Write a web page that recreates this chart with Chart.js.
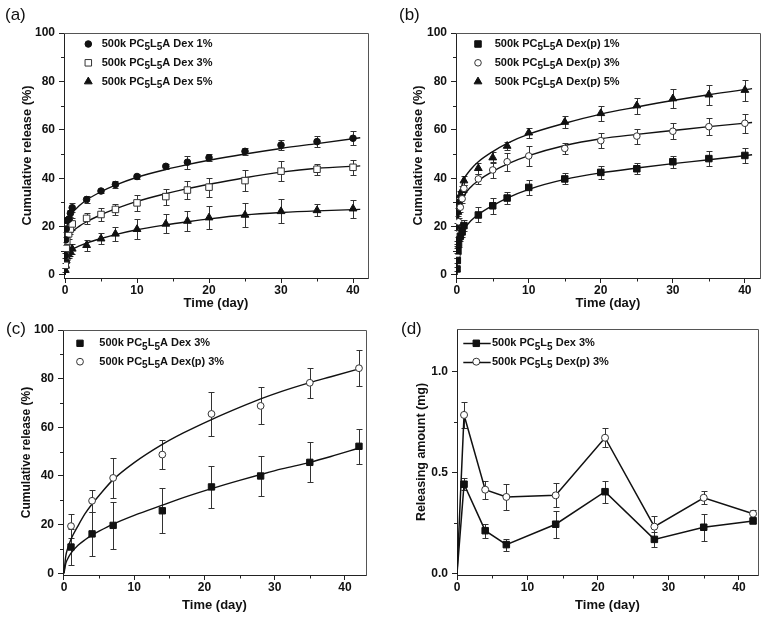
<!DOCTYPE html>
<html><head><meta charset="utf-8">
<script src="https://cdn.jsdelivr.net/npm/chart.js@4.4.1/dist/chart.umd.min.js"></script>
<style>
html,body{margin:0;padding:0;background:#fff;}
#wrap{position:relative;width:767px;height:620px;overflow:hidden;background:#fff;}
canvas{position:absolute;}
.pl{position:absolute;font-family:'Liberation Sans',Arial,sans-serif;font-size:17px;line-height:17px;color:#111;white-space:nowrap;}
</style></head><body>
<div id="wrap">
<canvas id="ca" width="384" height="320" style="left:0;top:0;width:384px;height:320px"></canvas>
<canvas id="cb" width="383" height="320" style="left:384px;top:0;width:383px;height:320px"></canvas>
<canvas id="cc" width="384" height="310" style="left:0;top:310px;width:384px;height:310px"></canvas>
<canvas id="cd" width="383" height="310" style="left:384px;top:310px;width:383px;height:310px"></canvas>
<div class="pl" style="left:5px;top:6px">(a)</div>
<div class="pl" style="left:399px;top:6px">(b)</div>
<div class="pl" style="left:6px;top:320px">(c)</div>
<div class="pl" style="left:401px;top:320px">(d)</div>
</div>
<script>
// ---------- tick labels ----------
const xTicks = [0, 10, 20, 30, 40];
const xMinor = [5, 15, 25, 35];
const yTicksPct = [0, 20, 40, 60, 80, 100];
const yMinorPct = [10, 30, 50, 70, 90];
const yTicksMg = [0, 0.5, 1.0];
const yMinorMg = [0.25, 0.75];
const xTitle = 'Time (day)';
const yTitlePct = 'Cumulative release (%)';
const yTitleMg = 'Releasing amount (mg)';

// ---------- panel (a) ----------
const aLabels = ['500k PC₅L₅A Dex 1%', '500k PC₅L₅A Dex 3%', '500k PC₅L₅A Dex 5%'];
const aDays = [0.042, 0.083, 0.167, 0.25, 0.5, 0.75, 1, 3, 5, 7, 10, 14, 17, 20, 25, 30, 35, 40];
const aDex1 = [8, 14.5, 19, 22.5, 23, 25.5, 27.8, 31.2, 34.7, 37.4, 40.7, 44.9, 46.6, 48.5, 51.1, 53.7, 55.1, 56.5];
const aDex1Err = [1, 1, 1.2, 1.2, 1.5, 1.5, 1.8, 1.3, 1.0, 1.3, 1.2, 1.0, 2.6, 1.5, 1.5, 2.1, 2.4, 2.8];
const aDex3 = [4, 8, 11, 14, 17, 19, 21.1, 23.4, 25, 27.1, 29.8, 32.4, 35.1, 36.3, 39, 42.9, 43.7, 44.5];
const aDex3Err = [1, 1, 1.2, 1.5, 2, 2, 2.3, 2.3, 2.6, 2.4, 3.2, 3.3, 3.7, 3.9, 4.2, 4.2, 2.3, 3.1];
const aDex5 = [2, 4, 6, 7.5, 8.5, 9.5, 10.8, 12.3, 15, 17, 18.9, 21.1, 22.3, 23.7, 24.8, 26.3, 26.7, 27.4];
const aDex5Err = [0.8, 1, 1, 1.2, 1.5, 1.5, 2, 2.2, 2.2, 3, 4.1, 3.9, 4.0, 4.7, 4.8, 5.0, 2.5, 3.7];
const aFitDays = [0, 0.02, 0.1, 0.25, 0.5, 1, 2, 3, 5, 7, 10, 14, 17, 20, 25, 30, 35, 41];
const aFit1 = [0, 11, 15.5, 19.5, 22.5, 25.5, 28.7, 31, 34.4, 37.1, 40.4, 43.6, 45.6, 47.4, 50, 52.3, 54.3, 56.7];
const aFit3 = [0, 6, 9.5, 12.5, 15, 17.7, 20.2, 22, 24.9, 27.3, 30.4, 33.6, 35.7, 37.5, 40.2, 42.5, 44.1, 45.1];
const aFit5 = [0, 5, 7, 8.3, 9.5, 10.6, 12, 13.2, 15.1, 16.7, 18.7, 20.7, 22, 23.2, 24.8, 25.8, 26.5, 27.1];

// ---------- panel (b) ----------
const bLabels = ['500k PC₅L₅A Dex(p) 1%', '500k PC₅L₅A Dex(p) 3%', '500k PC₅L₅A Dex(p) 5%'];
const bDays = [0.042, 0.083, 0.167, 0.25, 0.5, 0.75, 1, 3, 5, 7, 10, 15, 20, 25, 30, 35, 40];
const bDex1 = [2.5, 6, 10, 13, 16, 17.8, 20.4, 24.8, 28.6, 31.8, 36.2, 39.7, 42.4, 43.9, 46.8, 48.1, 49.4];
const bDex1Err = [1, 1, 1.5, 1.5, 2, 2, 2.4, 3.1, 3.2, 2.3, 3.0, 2.3, 2.8, 2.3, 2.5, 3.0, 3.2];
const bDex3 = [8, 13, 17, 22, 28, 31.5, 35.8, 39.7, 43.4, 46.8, 49.2, 52.3, 55.5, 57.4, 59.4, 61.3, 62.7];
const bDex3Err = [1, 1.2, 1.5, 1.5, 1.8, 1.8, 1.4, 2.0, 3.4, 3.8, 4.1, 2.1, 3.0, 3.1, 3.4, 3.6, 3.9];
const bDex5 = [12, 20, 26, 30, 33, 35, 39, 44.1, 48.5, 53.3, 58.8, 63.2, 66.8, 70, 72.9, 74.5, 76.4];
const bDex5Err = [1, 1.5, 1.5, 1.5, 1.8, 1.8, 2.0, 2.2, 2.4, 1.7, 2.0, 2.3, 3.0, 3.3, 3.9, 4.2, 4.3];
const bFitDays = [0, 0.02, 0.1, 0.25, 0.5, 1, 2, 3, 5, 7, 10, 15, 20, 25, 30, 35, 41];
const bFit1 = [0, 5, 9, 12.5, 15.5, 18.8, 22.5, 25, 28.7, 31.8, 35.4, 39.5, 42.2, 44.2, 46, 47.6, 49.7];
const bFit3 = [0, 12, 18, 23.5, 28, 32.5, 36.5, 39, 42.8, 45.8, 49.3, 53.5, 56.3, 58.1, 59.7, 61.3, 63];
const bFit5 = [0, 15, 23, 29.5, 34.5, 39.5, 43.8, 46.8, 51, 54.4, 58.2, 62.7, 66.5, 69.4, 72.1, 74.5, 77];

// ---------- panel (c) ----------
const cLabels = ['500k PC₅L₅A Dex 3%', '500k PC₅L₅A Dex(p) 3%'];
const cDays = [1, 4, 7, 14, 21, 28, 35, 42];
const cDex = [10.8, 16.2, 19.7, 25.7, 35.5, 40.0, 45.6, 52.2];
const cDexErr = [7.5, 8.9, 9.7, 9.2, 8.8, 8.3, 8.2, 7.1];
const cDexP = [19.4, 29.8, 39.2, 48.8, 65.5, 68.8, 78.3, 84.3];
const cDexPErr = [4.8, 4.5, 8.2, 6.0, 9.0, 7.6, 6.1, 7.5];
const cFitDays = [0, 0.25, 0.5, 1, 2, 3, 4, 5, 7, 10, 14, 17, 21, 25, 28, 31, 35, 38, 42];
const cFitDex = [0, 4, 5.8, 8.3, 11.5, 13.8, 15.7, 17.3, 20.2, 23.8, 28, 31.1, 34.8, 38.2, 40.6, 42.9, 45.6, 48, 51.5];
const cFitDexP = [0, 7, 10, 14, 19.5, 24.5, 28.5, 32, 38.5, 45.5, 53, 57.7, 63.2, 68.2, 71.7, 74.8, 78.4, 80.8, 84];

// ---------- panel (d) ----------
const dLabels = ['500k PC₅L₅ Dex 3%', '500k PC₅L₅ Dex(p) 3%'];
const dDays = [0, 1, 4, 7, 14, 21, 28, 35, 42];
const dDex = [0, 0.443, 0.213, 0.144, 0.245, 0.406, 0.170, 0.230, 0.261];
const dDexErr = [0, 0.03, 0.035, 0.03, 0.066, 0.054, 0.037, 0.068, 0.01];
const dDexP = [0, 0.786, 0.416, 0.380, 0.388, 0.673, 0.233, 0.376, 0.297];
const dDexPErr = [0, 0.064, 0.045, 0.063, 0.06, 0.046, 0.055, 0.033, 0.016];

// ---------- helpers ----------
const FAMILY = "'Liberation Sans', Arial, Helvetica, sans-serif";
Chart.defaults.font.family = FAMILY;
Chart.defaults.font.weight = 'bold';
Chart.defaults.color = '#111';
const INK = '#111';

function pts(xs, ys) { return xs.map((x, i) => ({ x: x, y: ys[i] })); }

function drawRich(ctx, text, x, y, size, subSize, subDy) {
  let cx = x, run = '', sub = false;
  const flush = () => {
    if (!run) return;
    ctx.font = 'bold ' + (sub ? subSize : size) + 'px ' + FAMILY;
    ctx.fillText(run, cx, sub ? y + subDy : y);
    cx += ctx.measureText(run).width;
    run = '';
  };
  for (const ch of text) {
    const code = ch.charCodeAt(0);
    const isSub = code >= 0x2080 && code <= 0x2089;
    if (isSub !== sub) { flush(); sub = isSub; }
    run += isSub ? String(code - 0x2080) : ch;
  }
  flush();
}

function makePlugins(cfg) {
  return [
    {
      id: 'errBars',
      beforeDatasetsDraw(chart) {
        const ctx = chart.ctx, xs = chart.scales.x, ys = chart.scales.y;
        ctx.save();
        ctx.strokeStyle = '#333';
        ctx.lineWidth = 1;
        chart.data.datasets.forEach(ds => {
          if (!ds.errors) return;
          ds.data.forEach((p, j) => {
            const e = ds.errors[j];
            if (!e) return;
            const x = Math.round(xs.getPixelForValue(p.x)) + 0.5;
            const y1 = Math.round(ys.getPixelForValue(p.y - e)) + 0.5;
            const y2 = Math.round(ys.getPixelForValue(p.y + e)) + 0.5;
            ctx.beginPath();
            ctx.moveTo(x, y1); ctx.lineTo(x, y2);
            ctx.moveTo(x - 3, y1); ctx.lineTo(x + 3, y1);
            ctx.moveTo(x - 3, y2); ctx.lineTo(x + 3, y2);
            ctx.stroke();
          });
        });
        ctx.restore();
      }
    },
    {
      id: 'frameMinor',
      afterDraw(chart) {
        const ctx = chart.ctx, a = chart.chartArea, xs = chart.scales.x, ys = chart.scales.y;
        ctx.save();
        ctx.lineWidth = 1;
        ctx.strokeStyle = '#555';
        ctx.beginPath();
        const t = Math.round(a.top) + 0.5, r = Math.round(a.right) + 0.5;
        ctx.moveTo(Math.round(a.left), t); ctx.lineTo(r, t); ctx.lineTo(r, Math.round(a.bottom) + 1);
        ctx.stroke();
        ctx.strokeStyle = '#222';
        ctx.beginPath();
        cfg.xMinor.forEach(v => {
          const px = Math.round(xs.getPixelForValue(v)) + 0.5;
          ctx.moveTo(px, Math.round(a.bottom)); ctx.lineTo(px, Math.round(a.bottom) + 3.5);
        });
        cfg.yMinor.forEach(v => {
          const py = Math.round(ys.getPixelForValue(v)) + 0.5;
          ctx.moveTo(Math.round(a.left) - 3, py); ctx.lineTo(Math.round(a.left), py);
        });
        ctx.stroke();
        ctx.restore();
      }
    },
    {
      id: 'richLegend',
      afterDatasetsDraw(chart) {
        const L = cfg.legend, ctx = chart.ctx, a = chart.chartArea;
        const items = chart.data.datasets.filter(d => d.inLegend);
        ctx.save();
        ctx.textBaseline = 'middle';
        ctx.textAlign = 'left';
        items.forEach((d, k) => {
          const y = a.top + L.y0 + k * L.dy;
          if (L.line) {
            ctx.strokeStyle = INK; ctx.lineWidth = 1.5;
            ctx.beginPath();
            ctx.moveTo(a.left + L.line[0], Math.round(y) + 0.5);
            ctx.lineTo(a.left + L.line[1], Math.round(y) + 0.5);
            ctx.stroke();
          }
          ctx.fillStyle = d.legendFill;
          ctx.strokeStyle = d.legendStroke;
          ctx.lineWidth = 1;
          Chart.helpers.drawPoint(ctx, { pointStyle: d.legendStyle, radius: d.legendRadius, rotation: 0, borderWidth: 1 }, a.left + L.markerX, y);
          ctx.fillStyle = INK;
          drawRich(ctx, d.label, a.left + L.textX, y, 11, 10, 3.5);
        });
        ctx.restore();
      }
    }
  ];
}

function xScale(o) {
  return {
    type: 'linear', position: 'bottom', min: o.min, max: o.max,
    afterBuildTicks: s => { s.ticks = xTicks.map(v => ({ value: v })); },
    afterFit: s => { s.height = o.height; },
    grid: { display: true, drawOnChartArea: false, drawTicks: true, tickLength: 5, tickColor: '#222', tickWidth: 1 },
    border: { display: true, color: '#222', width: 1 },
    ticks: { padding: 0, color: INK, font: { size: 12, weight: 'bold' }, maxRotation: 0, autoSkip: false, callback: v => String(v) },
    title: { display: true, text: xTitle, color: INK, font: { size: 13, weight: 'bold' }, padding: { top: 0, bottom: o.titlePad } }
  };
}
function yScale(o) {
  return {
    type: 'linear', position: 'left', min: o.min, max: o.max,
    afterBuildTicks: s => { s.ticks = o.ticks.map(v => ({ value: v })); },
    afterFit: s => { s.width = o.width; },
    grid: { display: true, drawOnChartArea: false, drawTicks: true, tickLength: 5, tickColor: '#222', tickWidth: 1 },
    border: { display: true, color: '#222', width: 1 },
    ticks: { padding: 4, color: INK, font: { size: 12, weight: 'bold' }, autoSkip: false, callback: o.fmt || (v => String(v)) },
    title: { display: true, text: o.title, color: INK, font: { size: o.titleSize, weight: 'bold' }, padding: { top: o.titlePad, bottom: 0 } }
  };
}

function markerSet(label, xs, ys, errs, style, radius, filled) {
  const fill = filled ? INK : '#fff';
  const stroke = filled ? INK : '#333';
  return {
    label: label, data: pts(xs, ys), errors: errs, showLine: false,
    pointStyle: style, pointRadius: radius, pointHoverRadius: radius,
    pointBackgroundColor: fill, pointBorderColor: stroke, pointBorderWidth: 1,
    backgroundColor: fill, borderColor: stroke, order: 0,
    inLegend: true, legendStyle: style, legendRadius: radius, legendFill: fill, legendStroke: stroke
  };
}
function fitSet(xs, ys) {
  return {
    label: 'fit', data: pts(xs, ys), showLine: true, pointRadius: 0, pointHoverRadius: 0,
    borderColor: INK, borderWidth: 1.4, cubicInterpolationMode: 'monotone', order: 1, inLegend: false
  };
}
function baseOptions(pad, scales) {
  return {
    responsive: false, animation: false, devicePixelRatio: 1,
    layout: { padding: pad },
    plugins: { legend: { display: false }, tooltip: { enabled: false } },
    scales: scales
  };
}

// ---------- (a) ----------
new Chart(document.getElementById('ca'), {
  type: 'scatter',
  data: { datasets: [
    markerSet(aLabels[0], aDays, aDex1, aDex1Err, 'circle', 3.3, true),
    markerSet(aLabels[1], aDays, aDex3, aDex3Err, 'rect', 4.6, false),
    markerSet(aLabels[2], aDays, aDex5, aDex5Err, 'triangle', 4.5, true),
    fitSet(aFitDays, aFit1), fitSet(aFitDays, aFit3), fitSet(aFitDays, aFit5)
  ] },
  options: baseOptions({ top: 33, right: 16, bottom: 0, left: 0 }, {
    x: xScale({ min: -0.14, max: 42.08, height: 42, titlePad: 9.2 }),
    y: yScale({ min: -1.24, max: 100, ticks: yTicksPct, width: 64, title: yTitlePct, titleSize: 12.8, titlePad: 20.2 })
  }),
  plugins: makePlugins({ xMinor: xMinor, yMinor: yMinorPct, legend: { markerX: 24.3, textX: 37.7, y0: 11, dy: 18.8 } })
});

// ---------- (b) ----------
new Chart(document.getElementById('cb'), {
  type: 'scatter',
  data: { datasets: [
    markerSet(bLabels[0], bDays, bDex1, bDex1Err, 'rect', 4.6, true),
    markerSet(bLabels[1], bDays, bDex3, bDex3Err, 'circle', 3.3, false),
    markerSet(bLabels[2], bDays, bDex5, bDex5Err, 'triangle', 4.5, true),
    fitSet(bFitDays, bFit1), fitSet(bFitDays, bFit3), fitSet(bFitDays, bFit5)
  ] },
  options: baseOptions({ top: 33, right: 7, bottom: 0, left: 0 }, {
    x: xScale({ min: -0.1, max: 42.1, height: 42, titlePad: 9.2 }),
    y: yScale({ min: -1.24, max: 100, ticks: yTicksPct, width: 72, title: yTitlePct, titleSize: 12.8, titlePad: 27.2 })
  }),
  plugins: makePlugins({ xMinor: xMinor, yMinor: yMinorPct, legend: { markerX: 22, textX: 38.7, y0: 11, dy: 18.8 } })
});

// ---------- (c) ----------
new Chart(document.getElementById('cc'), {
  type: 'scatter',
  data: { datasets: [
    markerSet(cLabels[0], cDays, cDex, cDexErr, 'rect', 4.5, true),
    markerSet(cLabels[1], cDays, cDexP, cDexPErr, 'circle', 3.4, false),
    fitSet(cFitDays, cFitDex), fitSet(cFitDays, cFitDexP)
  ] },
  options: baseOptions({ top: 20, right: 18, bottom: 0, left: 0 }, {
    x: xScale({ min: -0.14, max: 43.0, height: 45, titlePad: 7.2 }),
    y: yScale({ min: -0.7, max: 100, ticks: yTicksPct, width: 63, title: yTitlePct, titleSize: 12, titlePad: 19.8 })
  }),
  plugins: makePlugins({ xMinor: xMinor, yMinor: yMinorPct, legend: { markerX: 17, textX: 36.3, y0: 13.3, dy: 18.4 } })
});

// ---------- (d) ----------
function lineSet(label, xs, ys, errs, style, radius, filled) {
  const s = markerSet(label, xs, ys, errs, style, radius, filled);
  s.showLine = true;
  s.borderColor = INK;
  s.borderWidth = 1.5;
  s.tension = 0;
  s.pointRadius = ctx => (ctx.dataIndex === 0 ? 0 : radius);
  return s;
}
new Chart(document.getElementById('cd'), {
  type: 'scatter',
  data: { datasets: [
    lineSet(dLabels[0], dDays, dDex, dDexErr, 'rect', 4.6, true),
    lineSet(dLabels[1], dDays, dDexP, dDexPErr, 'circle', 3.5, false)
  ] },
  options: baseOptions({ top: 19, right: 9, bottom: 0, left: 0 }, {
    x: xScale({ min: 0, max: 42.7, height: 45, titlePad: 7.2 }),
    y: yScale({ min: -0.0064, max: 1.2114, ticks: yTicksMg, width: 73, title: yTitleMg, titleSize: 12.5, titlePad: 30.5, fmt: v => Number(v).toFixed(1) })
  }),
  plugins: makePlugins({ xMinor: xMinor, yMinor: yMinorMg, legend: { markerX: 19.3, textX: 35, y0: 14.3, dy: 18.4, line: [6.3, 33.7] } })
});
</script>
</body></html>
